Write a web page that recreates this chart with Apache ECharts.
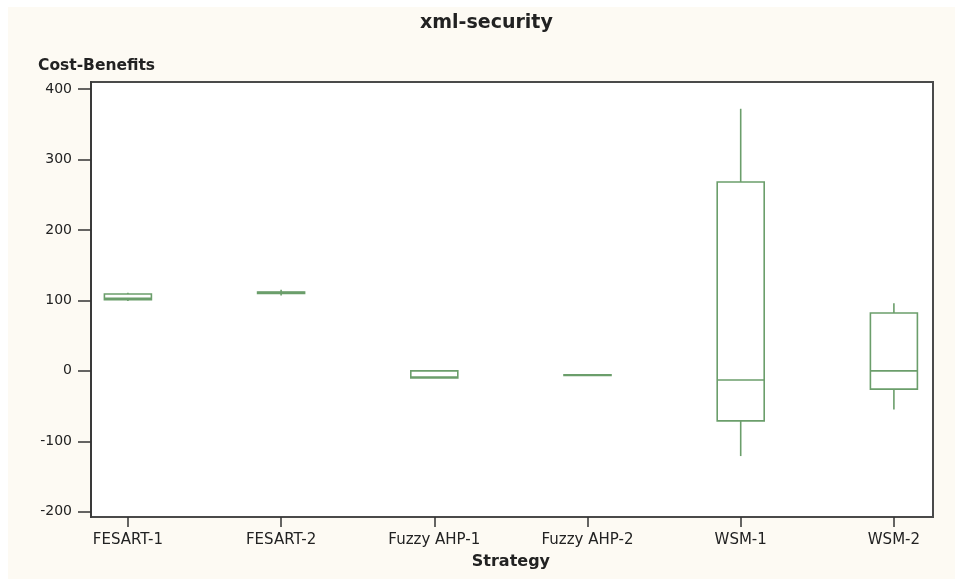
<!DOCTYPE html>
<html>
<head>
<meta charset="utf-8">
<script src="https://cdn.jsdelivr.net/npm/echarts@6/dist/echarts.min.js"></script>
<style>
  html, body { margin: 0; padding: 0; background: #ffffff; overflow: hidden; }
  #bg { position: absolute; left: 8px; top: 7px; width: 947px; height: 572px; background: #fdfaf3; }
  #chart { position: absolute; left: 0; top: 0; width: 1000px; height: 579px; }
</style>
</head>
<body>
<div id="bg"></div>
<div id="chart"></div>
<script>
// Data
const categories = ['FESART-1', 'FESART-2', 'Fuzzy AHP-1', 'Fuzzy AHP-2', 'WSM-1', 'WSM-2'];
// [min, Q1, median, Q3, max]
const fesart1 = [99, 101, 103, 109, 111];
const fesart2 = [107, 110, 111, 112, 115];
const fuzzyAhp1 = [-10, -10, -9, 0, 0];
const fuzzyAhp2 = [-7, -6.5, -6, -5.5, -5];
const wsm1 = [-121, -71, -13, 268, 372];
const wsm2 = [-55, -26, 0, 82, 96];
const yTicks = [-200, -100, 0, 100, 200, 300, 400];

const boxData = [fesart1, fesart2, fuzzyAhp1, fuzzyAhp2, wsm1, wsm2]
  .map((b, i) => [i].concat(b));

const chart = echarts.init(document.getElementById('chart'), null, { renderer: 'canvas' });
const yMin = -207.5, yMax = 410;
const green = '#6b9e6b';
const BOX_HALF = 23.5;

function renderBox(params, api) {
  const x = api.value(0);
  const pMin = api.coord([x, api.value(1)]);
  const pQ1 = api.coord([x, api.value(2)]);
  const pMed = api.coord([x, api.value(3)]);
  const pQ3 = api.coord([x, api.value(4)]);
  const pMax = api.coord([x, api.value(5)]);
  const cx = pMed[0];
  const st = { stroke: green, lineWidth: 1.6, fill: null };
  return {
    type: 'group',
    children: [
      { type: 'line', shape: { x1: cx, y1: pMax[1], x2: cx, y2: pQ3[1] }, style: st },
      { type: 'line', shape: { x1: cx, y1: pQ1[1], x2: cx, y2: pMin[1] }, style: st },
      { type: 'rect', shape: { x: cx - BOX_HALF, y: pQ3[1], width: 2 * BOX_HALF, height: pQ1[1] - pQ3[1] },
        style: { stroke: green, lineWidth: 1.6, fill: '#ffffff' } },
      { type: 'line', shape: { x1: cx - BOX_HALF, y1: pMed[1], x2: cx + BOX_HALF, y2: pMed[1] }, style: st }
    ]
  };
}

chart.setOption({
  backgroundColor: 'transparent',
  animation: false,
  title: [
    { text: 'xml-security', left: 415, top: 9,
      textStyle: { fontFamily: 'DejaVu Sans', fontWeight: 'bold', fontSize: 19, color: '#222' } },
    { text: 'Cost-Benefits', left: 33, top: 53,
      textStyle: { fontFamily: 'DejaVu Sans', fontWeight: 'bold', fontSize: 15.5, color: '#222' } }
  ],
  grid: [
    { left: 91, top: 82, width: 842, height: 435, show: true, backgroundColor: '#ffffff',
      borderColor: '#4a4a4a', borderWidth: 2, outerBoundsMode: 'none' },
    { left: 51.3, top: 82, width: 919.2, height: 435, show: false, outerBoundsMode: 'none' }
  ],
  xAxis: [
    { type: 'value', gridIndex: 0, show: false, min: 0, max: 1 },
    { type: 'category', gridIndex: 1, data: categories, boundaryGap: true,
      axisLine: { show: false, onZero: false },
      axisTick: { show: true, alignWithLabel: true, length: 10, lineStyle: { color: '#333', width: 1.5 } },
      axisLabel: { margin: 16, fontFamily: 'DejaVu Sans', fontSize: 15, color: '#222' },
      splitLine: { show: false },
      name: 'Strategy', nameLocation: 'middle', nameGap: 37,
      nameTextStyle: { fontFamily: 'DejaVu Sans', fontWeight: 'bold', fontSize: 16, color: '#222' } }
  ],
  yAxis: [
    { type: 'value', gridIndex: 0, min: yMin, max: yMax,
      axisLine: { show: true, lineStyle: { color: '#3a3a3a', width: 2 } },
      axisTick: { show: true, length: 13, customValues: yTicks, lineStyle: { color: '#333', width: 1.5 } },
      axisLabel: { customValues: yTicks, margin: 19, fontFamily: 'DejaVu Sans', fontSize: 14, color: '#222' },
      splitLine: { show: false } },
    { type: 'value', gridIndex: 1, min: yMin, max: yMax, show: false, splitLine: { show: false } }
  ],
  series: [
    { type: 'custom', xAxisIndex: 1, yAxisIndex: 1, data: boxData,
      encode: { x: 0, y: [1, 2, 3, 4, 5] },
      renderItem: renderBox }
  ]
});
</script>
</body>
</html>
